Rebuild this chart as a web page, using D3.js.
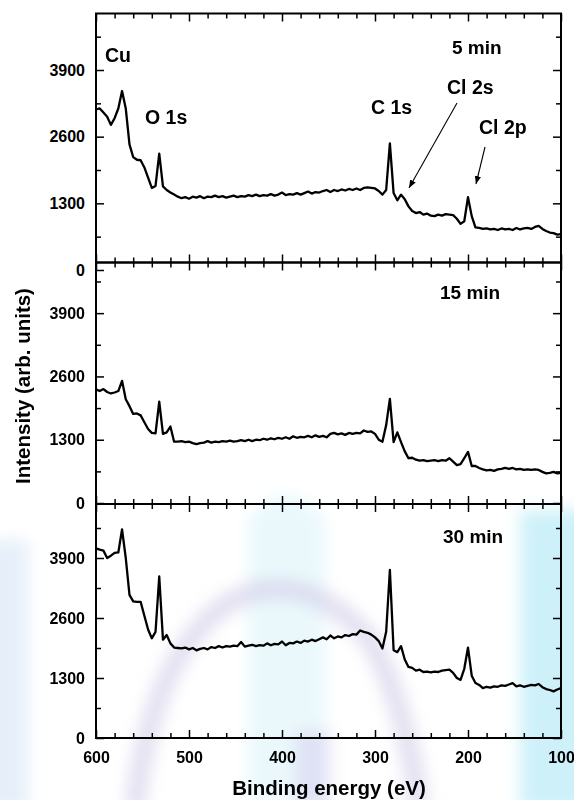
<!DOCTYPE html>
<html><head><meta charset="utf-8">
<script src="https://cdn.jsdelivr.net/npm/d3@7"></script>
<style>
body{margin:0;background:#fff}
text{font-family:"Liberation Sans",Arial,sans-serif;font-weight:bold;fill:#000}
</style>
</head><body>
<svg id="chart" width="574" height="800"></svg>
<script>
// ---- data (binding energy grid, eV) ----
const energy = [
600,596,592,588,584,580,576,572,568,564,
560,556,552,548,544,540,536,532,528,524,
520,516,512,508,504,500,496,492,488,484,
480,476,472,468,464,460,456,452,448,444,
440,436,432,428,424,420,416,412,408,404,
400,396,392,388,384,380,376,372,368,364,
360,356,352,348,344,340,336,332,328,324,
320,316,312,308,304,300,296,292,288,284,
280,276,272,268,264,260,256,252,248,244,
240,236,232,228,224,220,216,212,208,204,
200,196,192,188,184,180,176,172,168,164,
160,156,152,148,144,140,136,132,128,124,
120,116,112,108,104,100];

const intensity5min = [
3130,3150,3070,2990,2830,2960,3150,3490,3150,2450,
2200,2150,2140,2000,1800,1600,1640,2270,1630,1560,
1510,1470,1430,1400,1420,1390,1430,1410,1440,1400,
1430,1420,1450,1420,1440,1410,1430,1450,1420,1440,
1430,1460,1440,1470,1440,1460,1450,1480,1450,1470,
1510,1460,1480,1470,1500,1470,1500,1530,1490,1520,
1510,1540,1560,1520,1560,1540,1570,1550,1580,1560,
1590,1560,1600,1610,1600,1590,1540,1470,1560,2470,
1500,1360,1470,1380,1240,1150,1110,1130,1080,1100,
1060,1050,1080,1060,1090,1080,1070,1000,900,950,
1420,1050,830,820,800,810,790,800,780,810,
790,800,780,820,790,810,820,800,840,860,
800,760,730,720,690,700];

const intensity15min = [
2335,2300,2340,2280,2250,2270,2300,2510,2130,1990,
1830,1840,1800,1660,1520,1440,1430,2080,1420,1450,
1570,1260,1260,1270,1250,1260,1230,1210,1230,1240,
1270,1240,1260,1250,1270,1260,1280,1260,1270,1290,
1270,1300,1270,1300,1290,1320,1300,1330,1310,1340,
1320,1350,1320,1370,1340,1360,1350,1380,1350,1390,
1360,1380,1350,1420,1440,1410,1430,1400,1440,1420,
1440,1430,1490,1460,1470,1420,1300,1260,1600,2140,
1250,1450,1250,1060,920,930,890,870,880,860,
870,880,860,880,870,920,850,780,800,920,
1050,760,760,720,690,670,680,660,690,700,
720,700,720,690,700,680,690,680,690,680,
640,610,620,640,610,620];

const intensity30min = [
4110,4080,4060,3900,3950,4010,4020,4520,3900,3100,
2960,2950,2950,2650,2350,2160,2300,3500,2130,2230,
2050,1960,1950,1940,1960,1920,1950,1900,1930,1950,
1920,1970,1950,1990,1960,1990,1980,2000,1990,2080,
1980,2000,2020,1990,2010,2000,2050,2010,2040,2030,
2090,2010,2060,2050,2090,2060,2110,2090,2130,2100,
2140,2180,2140,2220,2160,2200,2180,2230,2210,2250,
2240,2330,2300,2280,2240,2180,2100,1940,2300,3640,
1900,1860,1990,1700,1540,1520,1460,1480,1430,1440,
1420,1440,1430,1460,1470,1480,1410,1300,1260,1500,
1960,1350,1190,1150,1080,1110,1090,1120,1110,1140,
1130,1160,1190,1120,1140,1110,1130,1150,1140,1170,
1100,1060,1040,1010,1050,1080];

const panelLabels = ["5 min", "15 min", "30 min"];
const yTickValues = [0, 1300, 2600, 3900];
const yMinorValues = [650, 1950, 3250, 4550];
const xTickValues = [600, 500, 400, 300, 200, 100];
const xMinorValues = [580,560,540,520,480,460,440,420,380,360,340,320,280,260,240,220,180,160,140,120];
const peakLabels5 = ["Cu", "O 1s", "C 1s", "Cl 2s", "Cl 2p"];

// ---- layout ----
const svg = d3.select("#chart");
const X0 = 96, X1 = 561;
const x = d3.scaleLinear().domain([600, 100]).range([X0, X1]);

// watermark (soft background shapes)
const defs = svg.append("defs");
defs.append("filter").attr("id","blur").attr("x","-20%").attr("y","-20%").attr("width","140%").attr("height","140%")
  .append("feGaussianBlur").attr("stdDeviation", 8);
defs.append("marker").attr("id","arrow").attr("viewBox","0 0 10 10").attr("refX",10).attr("refY",5)
  .attr("markerWidth",8).attr("markerHeight",8).attr("orient","auto-start-reverse").attr("markerUnits","userSpaceOnUse")
  .append("path").attr("d","M0,1 L10,5 L0,9 Z").attr("fill","#000");

const wm = svg.append("g").attr("filter","url(#blur)");
wm.append("rect").attr("x",520).attr("y",510).attr("width",70).attr("height",300).attr("fill","#c6eef8").attr("opacity",0.85);
wm.append("rect").attr("x",-20).attr("y",540).attr("width",48).attr("height",270).attr("fill","#dce8f6").attr("opacity",0.7);
wm.append("path").attr("d","M248,800 L248,520 Q285,470 325,520 L325,800 Z").attr("fill","#d8f3fa").attr("opacity",0.55);
wm.append("path").attr("d","M135,810 Q150,660 225,605 Q300,560 370,640 Q405,700 420,810")
  .attr("fill","none").attr("stroke","#d6d2ea").attr("stroke-width",20).attr("opacity",0.7);
wm.append("rect").attr("x",295).attr("y",730).attr("width",35).attr("height",80).attr("fill","#d6d0ef").attr("opacity",0.55);

const panels = [
  {label: panelLabels[0], values: intensity5min,  top: 13.5,  bottom: 262.5, domain: [146, 5002], labelPos: [452, 54]},
  {label: panelLabels[1], values: intensity15min, top: 262.5, bottom: 504,   domain: [-20, 4940], labelPos: [440, 299]},
  {label: panelLabels[2], values: intensity30min, top: 504,   bottom: 738,   domain: [0, 5070],   labelPos: [443, 543]}
];

panels.forEach((p, i) => {
  const y = d3.scaleLinear().domain(p.domain).range([p.bottom, p.top]);
  const g = svg.append("g");
  const inDom = v => v >= p.domain[0] && v <= p.domain[1];

  const pts = energy.map((e, k) => [e, p.values[k]]);
  g.append("path").datum(pts)
    .attr("d", d3.line().x(d => x(d[0])).y(d => y(d[1])))
    .attr("fill","none").attr("stroke","#000").attr("stroke-width",2.3).attr("stroke-linejoin","round");

  const style = sel => { sel.select(".domain").remove(); sel.selectAll("line").attr("stroke","#000").attr("stroke-width",1.5); };

  const left = g.append("g").attr("transform",`translate(${X0},0)`)
    .call(d3.axisLeft(y).tickValues(yTickValues).tickSize(-8).tickPadding(11).tickFormat(d3.format("d")));
  left.selectAll("text").style("font-size","16px").style("font-family","'Liberation Sans',Arial,sans-serif").style("font-weight","bold").attr("fill","#000");
  style(left);
  g.append("g").attr("transform",`translate(${X0},0)`)
    .call(d3.axisLeft(y).tickValues(yMinorValues.filter(inDom)).tickSize(-5).tickFormat("")).call(style);
  g.append("g").attr("transform",`translate(${X1},0)`)
    .call(d3.axisRight(y).tickValues(yTickValues.filter(inDom)).tickSize(-8).tickFormat("")).call(style);
  g.append("g").attr("transform",`translate(${X1},0)`)
    .call(d3.axisRight(y).tickValues(yMinorValues.filter(inDom)).tickSize(-5).tickFormat("")).call(style);
  g.append("g").attr("transform",`translate(0,${p.top})`)
    .call(d3.axisTop(x).tickValues(xTickValues).tickSize(-8).tickFormat("")).call(style);
  g.append("g").attr("transform",`translate(0,${p.top})`)
    .call(d3.axisTop(x).tickValues(xMinorValues).tickSize(-5).tickFormat("")).call(style);
  const bot = g.append("g").attr("transform",`translate(0,${p.bottom})`)
    .call(d3.axisBottom(x).tickValues(xTickValues).tickSize(-8).tickPadding(14)
      .tickFormat(i === 2 ? d3.format("d") : ""));
  bot.selectAll("text").style("font-size","16px").style("font-family","'Liberation Sans',Arial,sans-serif").style("font-weight","bold").attr("fill","#000");
  style(bot);
  g.append("g").attr("transform",`translate(0,${p.bottom})`)
    .call(d3.axisBottom(x).tickValues(xMinorValues).tickSize(-5).tickFormat("")).call(style);

  g.append("rect").attr("x",X0).attr("y",p.top).attr("width",X1-X0).attr("height",p.bottom-p.top)
    .attr("fill","none").attr("stroke","#000").attr("stroke-width",2);

  g.append("text").attr("x",p.labelPos[0]).attr("y",p.labelPos[1]).style("font-size","19px").text(p.label);
});

// peak annotations (top panel)
const ann = svg.append("g").style("font-size","19.5px");
const annPos = [[105,62],[145,124],[371,114],[447,94],[479,134]];
peakLabels5.forEach((t, k) => ann.append("text").attr("x",annPos[k][0]).attr("y",annPos[k][1]).text(t));

svg.append("line").attr("x1",457).attr("y1",103).attr("x2",409).attr("y2",188)
  .attr("stroke","#000").attr("stroke-width",1.1).attr("marker-end","url(#arrow)");
svg.append("line").attr("x1",485).attr("y1",147).attr("x2",476).attr("y2",184)
  .attr("stroke","#000").attr("stroke-width",1.1).attr("marker-end","url(#arrow)");

// axis titles
svg.append("text").attr("x",329).attr("y",795).attr("text-anchor","middle").style("font-size","20.5px").text("Binding energy (eV)");
svg.append("text").attr("transform","translate(30,386) rotate(-90)").attr("text-anchor","middle").style("font-size","20.5px").text("Intensity (arb. units)");
</script>
</body></html>
